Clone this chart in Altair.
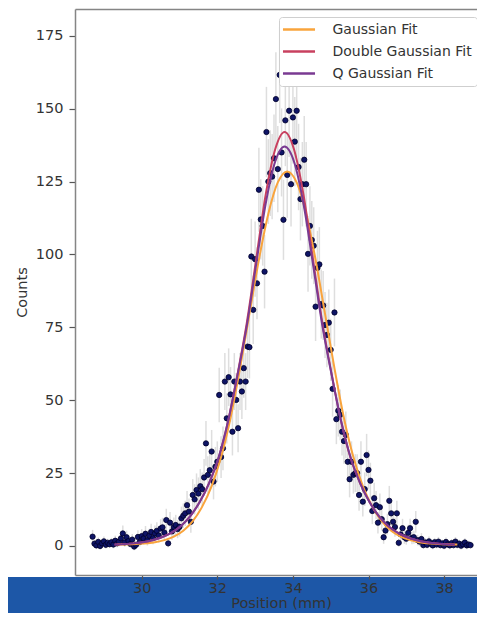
import altair as alt
import pandas as pd

# ---- measured data points (position in mm, counts) ----
positions = [
    28.70, 28.75, 28.80, 28.85, 28.90, 28.95, 29.00, 29.05, 29.10, 29.15,
    29.20, 29.25, 29.30, 29.35, 29.40, 29.45, 29.50, 29.55, 29.60, 29.65,
    29.70, 29.75, 29.80, 29.85, 29.90, 29.95, 30.00, 30.05, 30.10, 30.15,
    30.20, 30.25, 30.30, 30.35, 30.40, 30.45, 30.50, 30.55, 30.60, 30.65,
    30.70, 30.75, 30.80, 30.85, 30.90, 30.95, 31.00, 31.05, 31.10, 31.15,
    31.20, 31.25, 31.30, 31.35, 31.40, 31.45, 31.50, 31.55, 31.60, 31.65,
    31.70, 31.75, 31.80, 31.85, 31.90, 31.95, 32.00, 32.05, 32.10, 32.15,
    32.20, 32.25, 32.30, 32.35, 32.40, 32.45, 32.50, 32.55, 32.60, 32.65,
    32.70, 32.75, 32.80, 32.85, 32.90, 32.95, 33.00, 33.05, 33.10, 33.15,
    33.20, 33.25, 33.30, 33.35, 33.40, 33.45, 33.50, 33.55, 33.60, 33.65,
    33.70, 33.75, 33.80, 33.85, 33.90, 33.95, 34.00, 34.05, 34.10, 34.15,
    34.20, 34.25, 34.30, 34.35, 34.40, 34.45, 34.50, 34.55, 34.60, 34.65,
    34.70, 34.75, 34.80, 34.85, 34.90, 34.95, 35.00, 35.05, 35.10, 35.15,
    35.20, 35.25, 35.30, 35.35, 35.40, 35.45, 35.50, 35.55, 35.60, 35.65,
    35.70, 35.75, 35.80, 35.85, 35.90, 35.95, 36.00, 36.05, 36.10, 36.15,
    36.20, 36.25, 36.30, 36.35, 36.40, 36.45, 36.50, 36.55, 36.60, 36.65,
    36.70, 36.75, 36.80, 36.85, 36.90, 36.95, 37.00, 37.05, 37.10, 37.15,
    37.20, 37.25, 37.30, 37.35, 37.40, 37.45, 37.50, 37.55, 37.60, 37.65,
    37.70, 37.75, 37.80, 37.85, 37.90, 37.95, 38.00, 38.05, 38.10, 38.15,
    38.20, 38.25, 38.30, 38.35, 38.40, 38.45, 38.50, 38.55, 38.60, 38.65,
    38.70,
]
counts = [
    3.2, 0.8, 0.2, 1.4, 0.0, 0.9, 1.6, 0.4, 1.1, 0.6,
    1.3, 0.5, 1.8, 0.9, 1.5, 2.6, 4.3, 1.2, 3.0, 1.7,
    0.7, 2.2, -0.2, 0.4, 3.1, 1.4, 3.4, 2.6, 4.2, 2.0,
    3.5, 4.8, 2.7, 4.3, 5.2, 3.6, 6.0, 6.4, 4.6, 8.9,
    0.9, 8.0, 5.0, 6.5, 7.2, 5.8, 6.6, 9.5, 10.4, 11.2,
    14.0, 11.8, 8.3, 17.5, 16.0, 19.2, 18.0, 20.5, 19.5, 23.5,
    35.2, 24.4, 26.0, 32.4, 22.1, 27.2, 28.9, 51.8, 30.5, 33.5,
    56.4, 43.8, 57.9, 52.0, 39.2, 56.4, 50.1, 40.4, 56.4, 53.0,
    61.0, 56.4, 68.4, 68.2, 99.3, 81.0, 98.4, 90.1, 122.2, 112.0,
    109.8, 94.1, 142.0, 125.0, 127.9, 126.7, 133.0, 153.3, 129.3, 161.6,
    135.0, 111.9, 146.0, 127.3, 149.3, 124.1, 147.0, 138.7, 149.3, 130.0,
    119.0, 124.1, 132.5, 124.1, 100.2, 109.8, 105.0, 103.0, 82.1, 95.4,
    96.6, 83.0, 82.5, 75.8, 72.4, 76.6, 67.3, 53.9, 80.1, 43.5,
    46.4, 45.0, 39.2, 36.0, 38.1, 28.9, 22.9, 28.9, 24.4, 25.0,
    25.0, 17.5, 28.9, 15.2, 19.5, 31.2, 26.1, 22.4, 12.0, 16.4,
    14.0, 8.0, 13.3, 9.2, 3.0, 5.3, 7.5, 15.5, 11.2, 8.3,
    6.5, 11.2, 1.1, 4.0, 6.1, 3.0, 2.5, 4.5, 6.1, 2.8,
    3.0, 8.3, 2.0, 1.5, 2.4, 0.3, 1.2, 0.4, 1.6, 0.8,
    0.2, 1.3, 0.5, 1.5, 0.3, 0.9, 0.1, 1.4, 0.6, 0.2,
    1.0, 0.3, 1.5, 0.4, 0.8, 0.1, 0.6, 1.2, 0.2, 0.5,
    0.3,
]

# ---- fit curves ----
gauss_x = [29.35, 29.85, 30.35, 30.60, 30.85, 31.10, 31.35, 31.60, 31.85, 32.10, 32.35,
           32.60, 32.85, 33.10, 33.35, 33.60, 33.85, 34.10, 34.35, 34.60, 34.85, 35.10,
           35.35, 35.60, 35.85, 36.10, 36.35, 36.60, 36.85, 37.10, 37.35, 37.85, 38.35]
gauss_y = [0.5, 0.7, 1.3, 2.0, 3.2, 5.2, 8.5, 13.5, 20.5, 30.5, 43.9,
           60.9, 79.6, 98.2, 114.0, 124.7, 128.5, 124.7, 114.0, 98.2, 79.6, 60.9,
           43.9, 30.5, 20.5, 13.5, 8.5, 5.2, 3.2, 2.0, 1.3, 0.7, 0.5]

dg_x = [29.28, 29.78, 30.28, 30.53, 30.78, 31.03, 31.28, 31.53, 31.78, 32.03, 32.28,
        32.53, 32.78, 33.03, 33.28, 33.53, 33.78, 34.03, 34.28, 34.53, 34.78, 35.03,
        35.28, 35.53, 35.78, 36.03, 36.28, 36.53, 36.78, 37.03, 37.28, 37.78, 38.28]
dg_y = [0.5, 0.9, 2.0, 3.0, 4.5, 6.8, 10.2, 15.0, 21.5, 30.0, 42.5,
        58.6, 76.5, 98.5, 120.5, 136.0, 142.0, 136.0, 120.5, 98.5, 76.5, 58.6,
        42.5, 30.0, 21.5, 15.0, 10.2, 6.8, 4.5, 3.0, 2.0, 0.9, 0.5]

q_x = dg_x
q_y = [0.5, 0.9, 2.0, 3.0, 4.5, 6.8, 10.2, 15.0, 21.5, 30.2, 42.5,
       58.4, 75.5, 96.8, 117.4, 131.8, 137.0, 131.8, 117.4, 96.8, 75.5, 58.4,
       42.5, 30.2, 21.5, 15.0, 10.2, 6.8, 4.5, 3.0, 2.0, 0.9, 0.5]

fit_names = ["Gaussian Fit", "Double Gaussian Fit", "Q Gaussian Fit"]
fit_colors = ["#f9a43c", "#c8405f", "#7a3a92"]

x_ticks = [30, 32, 34, 36, 38]
y_ticks = [0, 25, 50, 75, 100, 125, 150, 175]

pts = pd.DataFrame({"position": positions, "counts": counts})
fits = pd.DataFrame({
    "position": gauss_x + dg_x + q_x,
    "value": gauss_y + dg_y + q_y,
    "fit": [fit_names[0]] * len(gauss_x) + [fit_names[1]] * len(dg_x) + [fit_names[2]] * len(q_x),
})

W, H = 412, 566
FONT = "DejaVu Sans"
FRAME = "#858585"

xscale = alt.Scale(domain=[28.235, 39.135], nice=False, zero=False)
yscale = alt.Scale(domain=[-9.95, 184.2], nice=False, zero=False)
xaxis = alt.Axis(title="Position (mm)", values=x_ticks, grid=False, domain=True,
                 domainColor=FRAME, domainWidth=1.5,
                 tickSize=4, labelPadding=2, titlePadding=2, zindex=1)
xaxis_top = alt.Axis(orient="top", title=None, labels=False, ticks=False, grid=False,
                     domain=True, domainColor=FRAME, domainWidth=1.5, zindex=1)
yaxis = alt.Axis(title="Counts", values=y_ticks, grid=False, domain=True,
                 domainColor=FRAME, domainWidth=1.5,
                 tickSize=6, labelPadding=6, titlePadding=6, zindex=1)

band = alt.Chart(pd.DataFrame({"k": [0]})).mark_rect(color="#1d57a7").encode(
    x=alt.value(-67), x2=alt.value(W), y=alt.value(568), y2=alt.value(606)
)

err = alt.Chart(pts).transform_calculate(
    lo="datum.counts - 1.3*sqrt(max(datum.counts, 1))",
    hi="datum.counts + 1.3*sqrt(max(datum.counts, 1))",
).mark_rule(color="#dedede", strokeWidth=1.5).encode(
    x=alt.X("position:Q", scale=xscale, axis=xaxis),
    y=alt.Y("lo:Q", scale=yscale, axis=yaxis),
    y2="hi:Q",
)

dots = alt.Chart(pts).mark_circle(
    size=28, color="#0e1466", opacity=1, stroke="#00002a", strokeWidth=0.8
).encode(
    x=alt.X("position:Q", scale=xscale, axis=xaxis_top),
    y=alt.Y("counts:Q", scale=yscale, axis=yaxis),
)

lines = alt.Chart(fits).mark_line(strokeWidth=2, interpolate="monotone").encode(
    x=alt.X("position:Q", scale=xscale, axis=None),
    y=alt.Y("value:Q", scale=yscale, axis=yaxis),
    color=alt.Color(
        "fit:N",
        scale=alt.Scale(domain=fit_names, range=fit_colors),
        legend=alt.Legend(
            title=None, orient="none", legendX=204, legendY=8,
            symbolType="M-2.67,0H2.67", symbolSize=144, symbolStrokeWidth=2.5,
            symbolOffset=7.5, labelOffset=26, padding=5, rowPadding=7,
            fillColor="white", strokeColor="#cfcfcf", cornerRadius=3,
            labelFont=FONT, labelFontSize=14, labelColor="#333333", labelLimit=300,
        ),
    ),
)

chart = alt.layer(band, err, dots, lines).resolve_axis(x="independent").properties(
    width=W, height=H,
    autosize=alt.AutoSizeParams(type="none"),
    padding={"left": 67, "top": 1, "right": -10, "bottom": 38},
).configure_axis(
    labelFont=FONT, labelFontSize=14.5, labelColor="#333333",
    titleFont=FONT, titleFontSize=14.5, titleFontWeight="normal", titleColor="#333333",
    tickColor="#555555", tickWidth=1.2,
).configure_view(
    strokeWidth=0
)

chart.save("out.html", embed_options={"renderer": "svg", "actions": False})
